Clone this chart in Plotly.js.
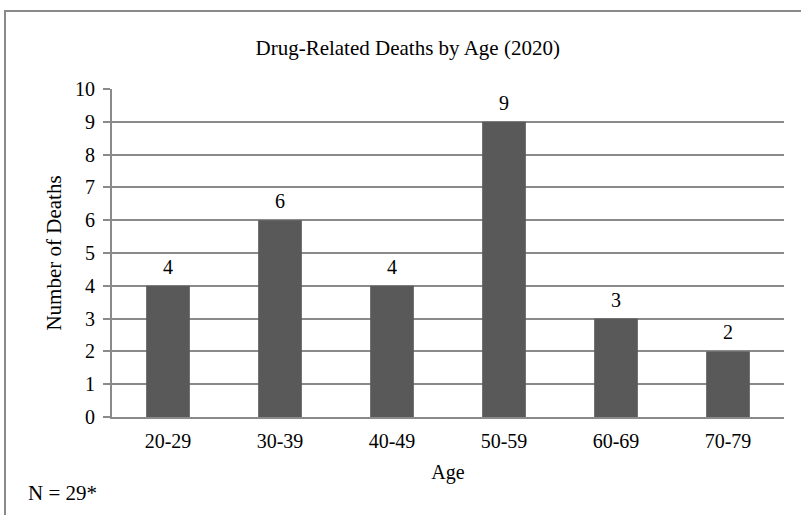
<!DOCTYPE html>
<html>
<head>
<meta charset="utf-8">
<script src="https://cdn.plot.ly/plotly-3.0.1.min.js"></script>
<style>
  html, body { margin: 0; padding: 0; background: #fff; }
  #wrap { position: relative; width: 801px; height: 515px; overflow: hidden; }
  #chart { position: absolute; left: 0; top: 0; width: 801px; height: 515px; }
  #frame { position: absolute; left: 4px; top: 10px; width: 820px; height: 540px;
           border-left: 2px solid #8a8a8a; border-top: 2px solid #8a8a8a; pointer-events: none; }
</style>
</head>
<body>
<div id="wrap">
  <div id="chart"></div>
  <div id="frame"></div>
</div>
<script>
const ageGroups = ["20-29", "30-39", "40-49", "50-59", "60-69", "70-79"];
const deaths = [4, 6, 4, 9, 3, 2];
const yTicks = [0, 1, 2, 3, 4, 5, 6, 7, 8, 9, 10];
const noteText = "N = 29*";

const font = "Liberation Serif, Times New Roman, serif";

const trace = {
  type: "bar",
  x: ageGroups,
  y: deaths,
  marker: { color: "#595959" },
  hoverinfo: "x+y"
};

const valueLabels = ageGroups.map((g, i) => ({
  x: g, y: deaths[i], xref: "x", yref: "y",
  text: String(deaths[i]),
  showarrow: false,
  yanchor: "middle", yshift: 19,
  font: { family: font, size: 20, color: "#000" }
}));

const layout = {
  width: 801,
  height: 515,
  margin: { l: 112, r: 17, t: 89, b: 98 },
  paper_bgcolor: "#fff",
  plot_bgcolor: "#fff",
  bargap: 0.61,
  showlegend: false,
  font: { family: font, size: 20, color: "#000" },
  title: {
    text: "Drug-Related Deaths by Age (2020)",
    font: { family: font, size: 21, color: "#000" },
    x: 0.509, xanchor: "center",
    y: 0.907, yanchor: "middle", yref: "container"
  },
  xaxis: {
    type: "category",
    showgrid: false,
    showline: true,
    linecolor: "#8a8a8a",
    linewidth: 2,
    ticks: "",
    ticklabelstandoff: 5,
    tickfont: { family: font, size: 20, color: "#000" },
    title: { text: "Age", font: { family: font, size: 20, color: "#000" }, standoff: 14 }
  },
  yaxis: {
    range: [0, 10],
    tickvals: yTicks,
    ticktext: yTicks.map(String),
    showgrid: true,
    gridcolor: "#8a8a8a",
    gridwidth: 2,
    zeroline: false,
    showline: true,
    linecolor: "#8a8a8a",
    linewidth: 2,
    ticks: "outside",
    ticklen: 7,
    tickcolor: "#8a8a8a",
    tickwidth: 2,
    ticklabelstandoff: 4,
    tickfont: { family: font, size: 20, color: "#000" },
    title: { text: "Number of Deaths", font: { family: font, size: 21, color: "#000" }, standoff: 8 }
  },
  annotations: valueLabels.concat([
    {
      text: noteText,
      xref: "paper", yref: "paper",
      x: 0, y: 0,
      xshift: -86, yshift: -76,
      xanchor: "left", yanchor: "middle",
      showarrow: false,
      font: { family: font, size: 21, color: "#000" }
    }
  ])
};

Plotly.newPlot("chart", [trace], layout, { displayModeBar: false, staticPlot: true });
</script>
</body>
</html>
